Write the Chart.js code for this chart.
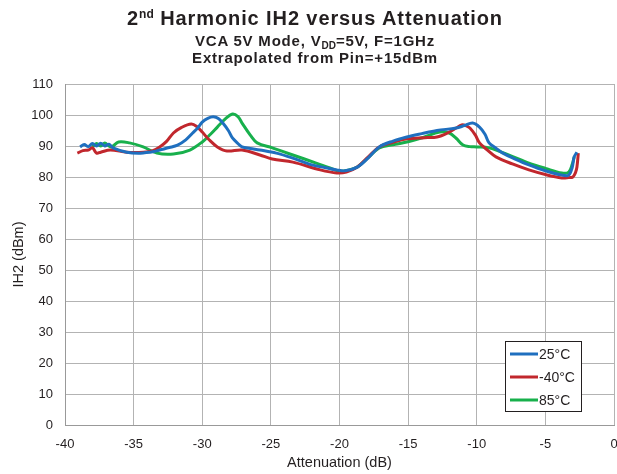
<!DOCTYPE html>
<html><head><meta charset="utf-8">
<script src="https://cdn.jsdelivr.net/npm/chart.js@4.4.0/dist/chart.umd.min.js"></script>
<style>
html,body{margin:0;padding:0;background:#fff;}
#wrap{position:relative;width:617px;height:474px;overflow:hidden;}
canvas{position:absolute;left:0;top:0;}
.t{position:absolute;left:315px;transform:translateX(-50%);white-space:nowrap;font-family:"Liberation Sans",Arial,sans-serif;font-weight:bold;color:#231f20;text-align:center;line-height:1;}
#t1{top:8px;font-size:20px;letter-spacing:0.9px;}
#t2{top:33px;font-size:15px;letter-spacing:0.8px;}
#t3{top:50px;font-size:15px;letter-spacing:0.8px;}
sup{font-size:12px;vertical-align:7px;line-height:0;letter-spacing:0;}
sub{font-size:10px;vertical-align:-3px;line-height:0;letter-spacing:0;}
</style></head><body>
<div id="wrap">
<canvas id="c" width="617" height="474"></canvas>
<div class="t" id="t1">2<sup>nd</sup> Harmonic IH2 versus Attenuation</div>
<div class="t" id="t2">VCA 5V Mode, V<sub>DD</sub>=5V, F=1GHz</div>
<div class="t" id="t3">Extrapolated from Pin=+15dBm</div>
</div>
<script>
const seriesLabels = ["25°C", "-40°C", "85°C"];
const seriesColors = ["#1f6fbf", "#c1272d", "#18b04c"];

const x25 = [-38.9,-38.6,-38.3,-38.0,-37.7,-37.4,-37.1,-36.8,-36.5,-35.5,-34.5,-33.5,-33.1,-32.4,-31.8,-31.2,-30.7,-30.3,-30.0,-29.6,-29.2,-28.8,-28.5,-28.1,-27.8,-27.4,-27.1,-26.5,-25.8,-24.6,-23.4,-22.0,-21.0,-20.2,-19.6,-18.7,-17.9,-17.1,-16.1,-15.1,-14.0,-12.9,-11.5,-10.9,-10.3,-9.8,-9.4,-9.1,-8.6,-8.1,-7.2,-6.2,-5.0,-3.8,-3.3,-3.05,-2.9,-2.7];
const y25 = [89.7,90.5,89.8,90.8,90.0,90.9,90.0,90.6,89.4,88.0,87.7,88.2,88.7,89.5,90.3,92.0,94.2,96.0,97.7,98.9,99.4,98.8,97.4,95.0,92.6,90.8,89.7,89.2,88.7,87.7,86.1,83.9,83.0,82.3,82.0,83.2,86.2,89.7,91.6,92.9,94.0,95.0,95.8,96.6,97.4,96.1,93.8,91.0,89.3,87.7,85.8,83.9,82.0,80.6,80.6,83.0,86.5,88.0];

const xm40 = [-39.1,-38.7,-38.3,-38.0,-37.7,-37.4,-36.7,-35.5,-34.3,-33.6,-33.1,-32.6,-32.1,-31.5,-30.8,-30.4,-30.0,-29.5,-28.9,-28.2,-27.1,-25.8,-24.9,-23.4,-21.4,-20.2,-19.5,-18.7,-17.9,-17.1,-16.1,-15.1,-13.8,-12.9,-12.0,-11.5,-11.1,-10.8,-10.5,-10.1,-9.8,-9.2,-8.6,-7.4,-6.2,-5.0,-3.8,-3.3,-3.0,-2.8,-2.7,-2.6];
const ym40 = [87.7,88.5,88.7,89.4,87.7,88.0,88.7,88.0,88.0,88.5,89.7,91.5,94.2,96.0,97.1,96.3,94.5,92.0,89.7,88.4,88.7,87.1,85.8,84.8,82.3,81.3,81.6,83.2,86.5,89.7,91.2,92.3,92.7,92.9,94.5,95.8,96.8,96.6,95.8,93.5,91.0,88.6,86.5,84.2,82.3,80.8,79.7,79.8,80.0,81.5,83.2,87.7];

const x85 = [-38.0,-37.7,-37.4,-37.1,-36.8,-36.6,-36.1,-35.3,-34.3,-33.3,-32.1,-30.9,-30.0,-29.4,-28.9,-28.3,-27.8,-27.4,-27.1,-26.5,-26.0,-24.9,-23.4,-21.7,-20.7,-20.0,-19.3,-18.7,-17.9,-17.1,-16.1,-15.1,-13.9,-12.7,-12.0,-11.5,-11.0,-10.5,-10.0,-9.1,-7.6,-6.2,-5.0,-3.8,-3.3,-3.05,-2.9];
const y85 = [89.7,90.8,90.0,91.0,90.0,89.7,91.3,91.0,89.7,87.7,87.4,88.7,91.3,93.8,96.1,98.8,100.3,99.5,97.4,93.5,91.0,89.4,87.1,84.5,82.9,81.9,82.3,83.2,86.3,89.4,90.4,91.3,92.8,94.5,94.2,92.5,90.3,89.8,89.7,89.4,87.0,84.5,82.8,81.3,81.6,84.0,86.5];

const xTitle = "Attenuation (dB)";
const yTitle = "IH2 (dBm)";

function pts(xs, ys){ return xs.map((x,i)=>({x:x, y:ys[i]})); }
const allX = [x25, xm40, x85];
const allY = [y25, ym40, y85];

const FONT = '"Liberation Sans", Arial, sans-serif';

const legendPlugin = {
  id: 'boxLegend',
  afterDraw(chart){
    const ctx = chart.ctx;
    const bx = 505, by = 341, bw = 76, bh = 70;
    ctx.save();
    ctx.fillStyle = '#fff';
    ctx.fillRect(bx, by, bw, bh);
    ctx.strokeStyle = '#231f20';
    ctx.lineWidth = 1;
    ctx.strokeRect(bx+0.5, by+0.5, bw, bh);
    ctx.font = '14px ' + FONT;
    ctx.textBaseline = 'middle';
    chart.data.datasets.forEach((ds, i) => {
      const yy = by + 13 + i*23;
      ctx.strokeStyle = ds.borderColor;
      ctx.lineWidth = 3;
      ctx.beginPath();
      ctx.moveTo(bx+5, yy);
      ctx.lineTo(bx+33, yy);
      ctx.stroke();
      ctx.fillStyle = '#231f20';
      ctx.fillText(ds.label, bx+34, yy+1);
    });
    ctx.restore();
  }
};

new Chart(document.getElementById('c'), {
  type: 'scatter',
  data: {
    datasets: seriesLabels.map((lab, i) => ({
      label: lab,
      data: pts(allX[i], allY[i]),
      showLine: true,
      borderColor: seriesColors[i],
      backgroundColor: seriesColors[i],
      borderWidth: 3,
      pointRadius: 0,
      tension: 0.35,
      fill: false
    }))
  },
  options: {
    responsive: false,
    animation: false,
    layout: { padding: { top: 84, right: 3, left: 0, bottom: 0 } },
    plugins: { legend: { display: false }, tooltip: { enabled: false }, title: { display: false } },
    scales: {
      x: {
        type: 'linear', min: -40, max: 0,
        ticks: { stepSize: 5, font: { size: 13, family: FONT }, color: '#231f20', padding: 12 },
        grid: { color: '#b3b3b3', lineWidth: 1, drawTicks: false },
        border: { color: '#999', width: 1 },
        title: { display: true, text: xTitle, font: { size: 14.5, family: FONT }, color: '#231f20', padding: { top: 0, bottom: 2 } },
        afterFit(s){ s.height = 49; s.paddingRight = 0; s.paddingLeft = 0; }
      },
      y: {
        type: 'linear', min: 0, max: 110,
        ticks: { stepSize: 10, font: { size: 13, family: FONT }, color: '#231f20', padding: 12 },
        grid: { color: '#b3b3b3', lineWidth: 1, drawTicks: false },
        border: { color: '#999', width: 1 },
        title: { display: true, text: yTitle, font: { size: 14.5, family: FONT }, color: '#231f20', padding: { top: 10, bottom: 0 } },
        afterFit(s){ s.width = 65; s.paddingTop = 0; s.paddingBottom = 0; }
      }
    }
  },
  plugins: [legendPlugin]
});
</script>
</body></html>
